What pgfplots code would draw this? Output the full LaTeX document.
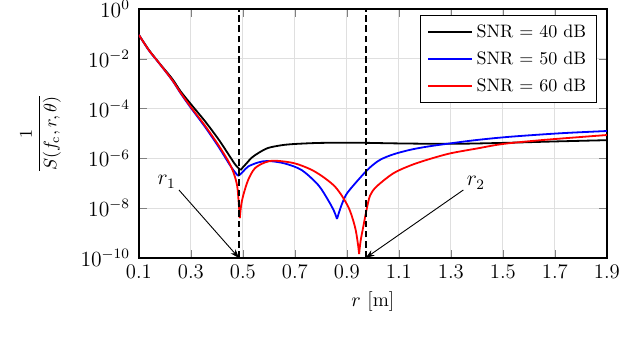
\documentclass[border=0pt]{standalone}
\usepackage{pgfplots}
\pgfplotsset{compat=1.18}
\usetikzlibrary{arrows.meta}
\begin{document}
\begin{tikzpicture}
\useasboundingbox (-77.1pt,-46.6pt) rectangle (278.1pt,143.2pt);
\begin{axis}[
  at={(0,0)}, anchor=south west,
  scale only axis, width=259.7pt, height=138.2pt,
  xmin=0.1, xmax=1.9, ymin=1e-10, ymax=1, ymode=log,
  xtick={0.1,0.3,0.5,0.7,0.9,1.1,1.3,1.5,1.7,1.9},
  xticklabels={0.1,0.3,0.5,0.7,0.9,1.1,1.3,1.5,1.7,1.9},
  ytick={1e0,1e-2,1e-4,1e-6,1e-8,1e-10},
  yminorticks=false,
  tick label style={font=\fontsize{11.5}{13}\selectfont},
  yticklabel style={xshift=-1.5pt},
  grid=major, major grid style={gray!25, line width=0.6pt},
  axis line style={line width=0.8pt},
  xlabel={$r$ [m]},
  xlabel style={font=\fontsize{11}{13}\selectfont},
  ylabel={$\displaystyle\frac{1}{S(f_{\mathrm{c}},r,\theta)}$},
  ylabel style={xshift=0pt, yshift=4pt},
  legend style={at={(0.98,0.975)}, anchor=north east, cells={anchor=west}, line width=0.6pt,
    row sep=2.3pt, inner xsep=4pt, inner ysep=3pt},
  legend image code/.code={\draw[#1, line width=1.1pt] (0cm,0cm) -- (0.85cm,0cm);},
  every axis plot/.append style={line width=1pt, smooth, tension=0.5},
]
% SNR = 40 dB
\addplot[black] coordinates {
(0.10,9.1e-2) (0.138,2.3e-2) (0.177,7.0e-3) (0.228,1.58e-3) (0.26,5.0e-4)
(0.30,1.51e-4) (0.356,2.95e-5) (0.408,5.5e-6) (0.446,1.38e-6) (0.472,5.4e-7)
(0.491,3.4e-7)};
\addlegendentry{SNR $=$ 40 dB}
\addplot[black, forget plot] coordinates {
(0.491,3.4e-7) (0.50,4.4e-7) (0.515,6.5e-7) (0.533,1.05e-6)
(0.56,1.66e-6) (0.597,2.63e-6) (0.65,3.4e-6) (0.70,3.8e-6) (0.80,4.2e-6)
(0.95,4.25e-6) (1.1,4.0e-6) (1.3,3.85e-6) (1.5,4.2e-6) (1.7,4.8e-6) (1.9,5.4e-6)};
% SNR = 50 dB
\addplot[blue] coordinates {
(0.10,9.1e-2) (0.138,2.2e-2) (0.177,6.8e-3) (0.228,1.38e-3) (0.26,4.2e-4)
(0.30,1.07e-4) (0.356,1.74e-5) (0.408,2.75e-6) (0.446,6.3e-7) (0.465,3.2e-7)
(0.481,2.0e-7)};
\addlegendentry{SNR $=$ 50 dB}
\addplot[blue, forget plot] coordinates {
(0.481,2.0e-7) (0.49,2.3e-7) (0.50,2.9e-7) (0.52,4.7e-7) (0.559,6.9e-7)
(0.597,7.9e-7) (0.66,6.3e-7) (0.726,3.4e-7) (0.79,8.5e-8) (0.828,2.1e-8)
(0.85,7.9e-9) (0.862,3.7e-9)};
\addplot[blue, forget plot] coordinates {
(0.862,3.7e-9) (0.875,1.0e-8) (0.89,2.5e-8) (0.905,4.6e-8)
(0.943,1.35e-7) (0.985,4.0e-7) (1.027,8.7e-7) (1.078,1.45e-6) (1.142,2.2e-6)
(1.207,2.95e-6) (1.296,4.0e-6) (1.40,5.5e-6) (1.527,7.4e-6) (1.719,1.02e-5) (1.9,1.26e-5)};
% SNR = 60 dB
\addplot[red] coordinates {
(0.10,9.1e-2) (0.138,2.24e-2) (0.177,6.9e-3) (0.228,1.41e-3) (0.26,4.4e-4)
(0.30,1.15e-4) (0.356,1.95e-5) (0.408,3.16e-6) (0.446,7.1e-7) (0.465,2.5e-7)
(0.478,7.9e-8) (0.484,1.6e-8) (0.488,4.0e-9)};
\addlegendentry{SNR $=$ 60 dB}
\addplot[red, forget plot] coordinates {
(0.488,4.0e-9) (0.493,1.26e-8) (0.501,3.2e-8)
(0.52,1.35e-7) (0.546,4.0e-7) (0.585,6.9e-7) (0.623,8.1e-7) (0.70,6.3e-7)
(0.777,2.95e-7) (0.854,7.4e-8) (0.905,1.15e-8) (0.931,1.8e-9) (0.942,4.0e-10)
(0.947,1.45e-10)};
\addplot[red, forget plot] coordinates {
(0.947,1.45e-10) (0.953,5.0e-10) (0.963,1.8e-9) (0.975,8.0e-9) (0.989,3.2e-8)
(1.014,7.4e-8) (1.078,2.5e-7) (1.142,5.1e-7) (1.207,8.7e-7) (1.296,1.58e-6)
(1.40,2.5e-6) (1.50,3.8e-6) (1.655,5.5e-6) (1.9,8.7e-6)};
\addplot[black, sharp plot, dash pattern=on 3.7pt off 2pt, forget plot] coordinates {(0.485,1e-10) (0.485,1)};
\addplot[black, sharp plot, dash pattern=on 3.7pt off 2pt, forget plot] coordinates {(0.972,1e-10) (0.972,1)};
\draw[-{Stealth[length=5pt,width=3.5pt]}, line width=0.5pt] (axis cs:0.254,5.4e-8) -- (axis cs:0.485,1e-10);
\node[font=\large] at (axis cs:0.2065,1.15e-7) {$r_1$};
\draw[-{Stealth[length=5pt,width=3.5pt]}, line width=0.5pt] (axis cs:1.348,5.4e-8) -- (axis cs:0.972,1e-10);
\node[font=\large] at (axis cs:1.396,1.05e-7) {$r_2$};
\end{axis}
\end{tikzpicture}
\end{document}
